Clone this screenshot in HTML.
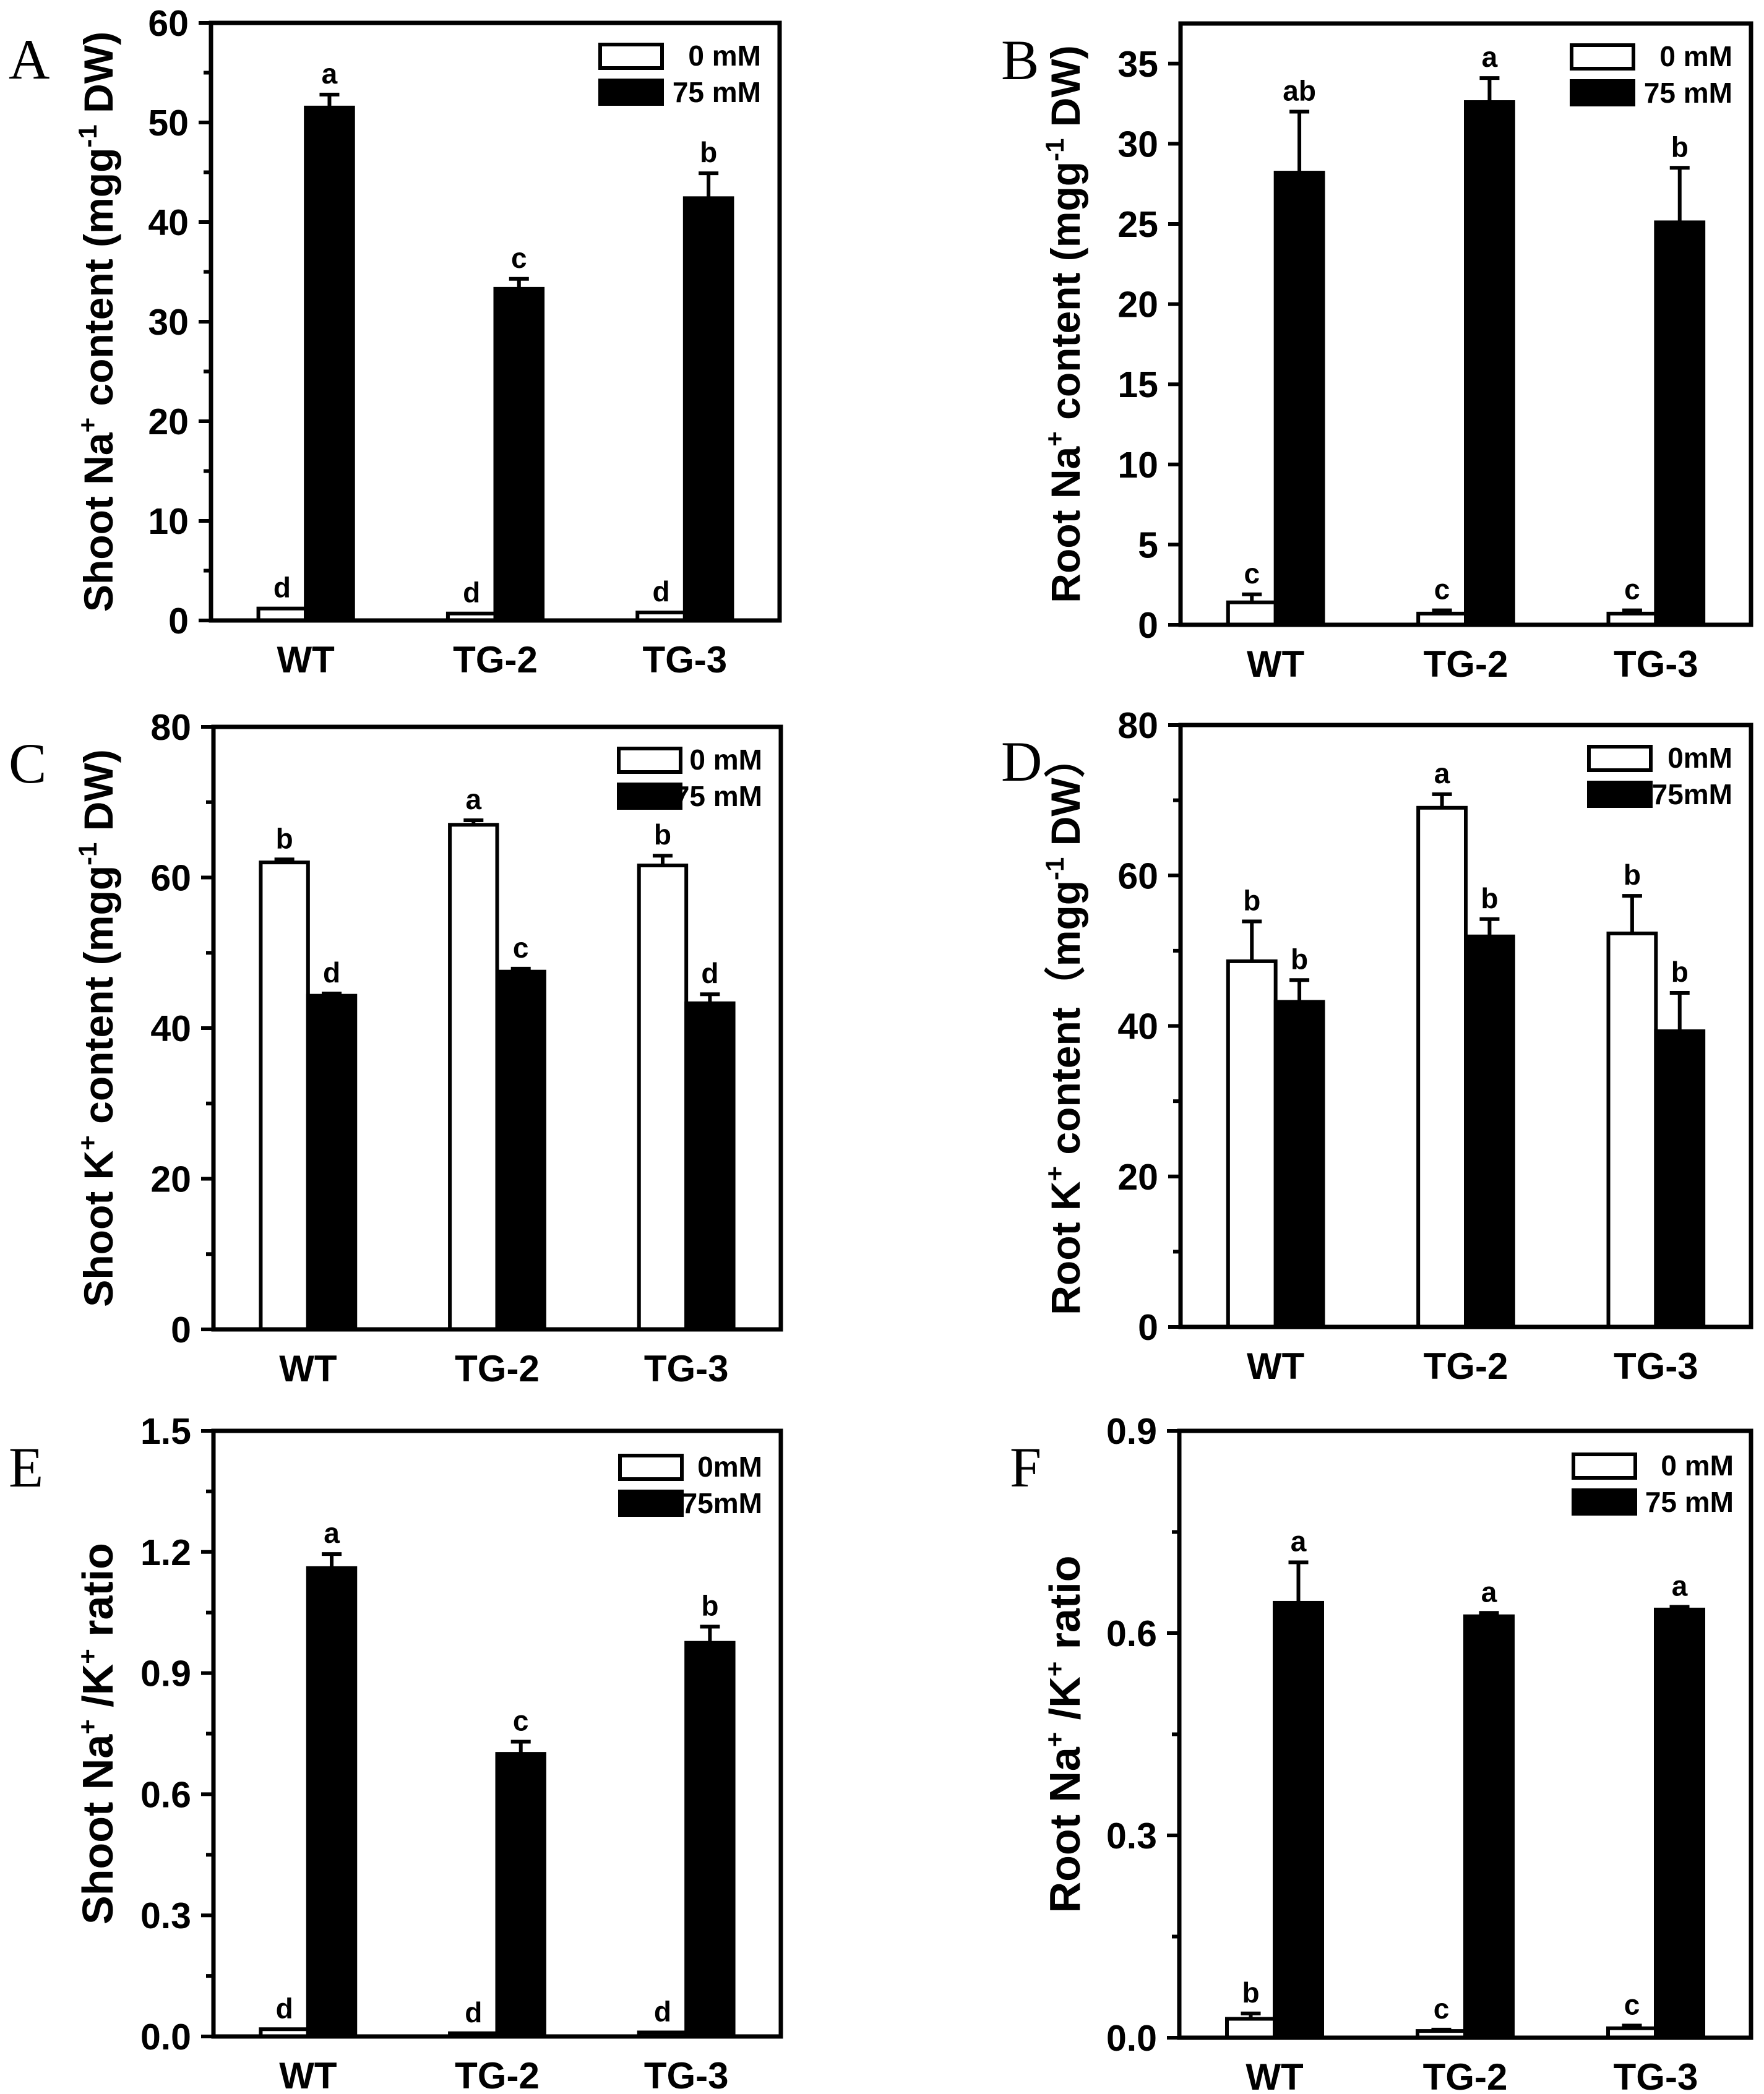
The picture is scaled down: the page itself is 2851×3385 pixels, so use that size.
<!DOCTYPE html>
<html><head><meta charset="utf-8"><style>
html,body{margin:0;padding:0;background:#fff;}
svg{display:block;}
text{font-family:"Liberation Sans",Arial,sans-serif;font-weight:bold;fill:#000;}
.pl{font-family:"Liberation Serif",serif;font-weight:normal;font-size:92px;}
</style></head><body>
<svg id="fig" width="2851" height="3385" viewBox="0 0 2851 3385" xmlns="http://www.w3.org/2000/svg"></svg>
<script>
const categories = ["WT","TG-2","TG-3"];
const aCtrl=[1.2,0.7,0.8], aCtrlErr=[0,0,0], aSalt=[51.5,33.3,42.4], aSaltErr=[1.3,1.0,2.5];
const aCtrlLet=["d","d","d"], aSaltLet=["a","c","b"];
const bCtrl=[1.4,0.7,0.7], bCtrlErr=[0.5,0.2,0.2], bSalt=[28.2,32.6,25.1], bSaltErr=[3.8,1.5,3.4];
const bCtrlLet=["c","c","c"], bSaltLet=["ab","a","b"];
const cCtrl=[62.0,67.0,61.6], cCtrlErr=[0.4,0.6,1.3], cSalt=[44.3,47.5,43.3], cSaltErr=[0.3,0.4,1.2];
const cCtrlLet=["b","a","b"], cSaltLet=["d","c","d"];
const dCtrl=[48.6,69.0,52.3], dCtrlErr=[5.3,1.8,5.0], dSalt=[43.2,51.9,39.3], dSaltErr=[2.9,2.3,5.1];
const dCtrlLet=["b","a","b"], dSaltLet=["b","b","b"];
const eCtrl=[0.018,0.008,0.010], eCtrlErr=[0,0,0], eSalt=[1.16,0.70,0.975], eSaltErr=[0.035,0.03,0.04];
const eCtrlLet=["d","d","d"], eSaltLet=["a","c","b"];
const fCtrl=[0.028,0.010,0.014], fCtrlErr=[0.008,0.002,0.004], fSalt=[0.645,0.625,0.635], fSaltErr=[0.06,0.005,0.004];
const fCtrlLet=["b","c","c"], fSaltLet=["a","a","a"];
const aTicks=["0","10","20","30","40","50","60"];
const bTicks=["0","5","10","15","20","25","30","35"];
const cTicks=["0","20","40","60","80"];
const eTicks=["0.0","0.3","0.6","0.9","1.2","1.5"];
const fTicks=["0.0","0.3","0.6","0.9"];

const NS="http://www.w3.org/2000/svg";
const svg=document.getElementById('fig');
function mk(tag,attrs,parent){const e=document.createElementNS(NS,tag);for(const k in attrs)e.setAttribute(k,attrs[k]);(parent||svg).appendChild(e);return e;}

function panel(p){
  const g=mk('g',{});
  
  
  const y=v=>p.B-(v/p.max)*(p.B-p.T);
  const x=i=>p.L+(i+0.5)*(p.R-p.L)/3;
  const bw=(p.R-p.L)/3*0.25;
  const pl=mk('text',{x:p.lx,y:p.T+90,class:'pl'},g);pl.textContent=p.id;
  
  
  p.ticks.forEach((t,i)=>{const v=parseFloat(t);const yy=y(v);
    mk('line',{x1:p.L-20,x2:p.L,y1:yy,y2:yy,stroke:'#000','stroke-width':6},g);
    const tl=mk('text',{x:p.L-36,y:yy+21,'font-size':59,'text-anchor':'end'},g);tl.textContent=t;
    
    
  });
  if(p.minor){for(let v=p.minor;v<p.max;v+=p.minor*2){const yy=y(v);mk('line',{x1:p.L-12,x2:p.L,y1:yy,y2:yy,stroke:'#000','stroke-width':6},g);}}
  const series=[[p.c,p.ce,p.cl,'#fff'],[p.s,p.se,p.sl,'#000']];
  series.forEach((s,si)=>{
    s[0].forEach((v,i)=>{
      const x0=x(i)-bw+si*bw; const top=y(v);
      const r=mk('rect',{x:x0,y:top,width:bw,height:p.B-top,fill:s[3],stroke:'#000','stroke-width':6},g);
      
      
      const cx=x0+bw/2; const et=y(v+s[1][i]);
      if(s[1][i]>0){mk('line',{x1:cx,x2:cx,y1:top,y2:et,stroke:'#000','stroke-width':6},g);
        mk('line',{x1:cx-16,x2:cx+16,y1:et,y2:et,stroke:'#000','stroke-width':6},g);}
      const lt=mk('text',{x:cx,y:Math.min(top,et)-18,'font-size':46,'text-anchor':'middle'},g);lt.textContent=s[2][i];
      
      
    });
  });
  const fr=mk('rect',{x:p.L,y:p.T,width:p.R-p.L,height:p.B-p.T,fill:'none',stroke:'#000','stroke-width':7},g);
  
  
  categories.forEach((c,i)=>{const t=mk('text',{x:x(i),y:p.B+84,'font-size':60,'text-anchor':'middle'},g);t.textContent=c;
    
    });
  const ty=mk('text',{transform:`translate(${p.tx},${(p.T+p.B)/2}) rotate(-90)`,'font-size':p.tf||66,'text-anchor':'middle'},g);
  ty.innerHTML=p.title;
  
  
  const lg=mk('g',{},g);
  
  
  const bx=p.R-p.lgx, by=p.T+p.lgy;
  mk('rect',{x:bx,y:by,width:100,height:38,fill:'#fff',stroke:'#000','stroke-width':6},lg);
  mk('rect',{x:bx-3,y:by+55,width:106,height:44,fill:'#000'},lg);
  const l1=mk('text',{x:p.R-p.ltx,y:by+34,'font-size':46,'text-anchor':'end'},lg);l1.textContent=p.lab[0];
  const l2=mk('text',{x:p.R-p.ltx,y:by+93,'font-size':46,'text-anchor':'end'},lg);l2.textContent=p.lab[1];
}
const sup=(s)=>`<tspan dy="-26" font-size="42">${s}</tspan><tspan dy="26"> </tspan>`;
panel({id:'A',L:341,R:1260,T:37,B:1003,max:60,ticks:aTicks,minor:5,c:aCtrl,ce:aCtrlErr,cl:aCtrlLet,s:aSalt,se:aSaltErr,sl:aSaltLet,lx:14,tx:182,
  title:`Shoot Na${sup('+')}content (mgg${sup('-1')}DW)`,lgx:290,lgy:35,ltx:30,lab:['0 mM','75 mM']});
panel({id:'B',L:1908,R:2830,T:38,B:1010,max:37.5,ticks:bTicks,minor:0,c:bCtrl,ce:bCtrlErr,cl:bCtrlLet,s:bSalt,se:bSaltErr,sl:bSaltLet,lx:1618,tx:1745,
  title:`Root Na${sup('+')}content (mgg${sup('-1')}DW)`,lgx:290,lgy:35,ltx:30,lab:['0 mM','75 mM']});
panel({id:'C',L:345,R:1262,T:1175,B:2149,max:80,ticks:cTicks,minor:10,c:cCtrl,ce:cCtrlErr,cl:cCtrlLet,s:cSalt,se:cSaltErr,sl:cSaltLet,lx:14,tx:182,
  title:`Shoot K${sup('+')}content (mgg${sup('-1')}DW)`,lgx:262,lgy:35,ltx:30,lab:['0 mM','75 mM']});
panel({id:'D',L:1908,R:2830,T:1172,B:2145,max:80,ticks:cTicks,minor:10,c:dCtrl,ce:dCtrlErr,cl:dCtrlLet,s:dSalt,se:dSaltErr,sl:dSaltLet,lx:1618,tx:1745,
  title:`Root K${sup('+')}content（mgg${sup('-1')}DW）`,lgx:262,lgy:35,ltx:30,lab:['0mM','75mM']});
panel({id:'E',L:345,R:1262,T:2313,B:3292,max:1.5,ticks:eTicks,minor:0.15,c:eCtrl,ce:eCtrlErr,cl:eCtrlLet,s:eSalt,se:eSaltErr,sl:eSaltLet,lx:14,tx:182,
  title:`Shoot Na${sup('+')}/K${sup('+')}ratio`,tf:70,lgx:260,lgy:40,ltx:30,lab:['0mM','75mM']});
panel({id:'F',L:1906,R:2830,T:2313,B:3294,max:0.9,ticks:fTicks,minor:0.15,c:fCtrl,ce:fCtrlErr,cl:fCtrlLet,s:fSalt,se:fSaltErr,sl:fSaltLet,lx:1632,tx:1745,
  title:`Root Na${sup('+')}/K${sup('+')}ratio`,tf:70,lgx:287,lgy:38,ltx:28,lab:['0 mM','75 mM']});
</script>
</body></html>
